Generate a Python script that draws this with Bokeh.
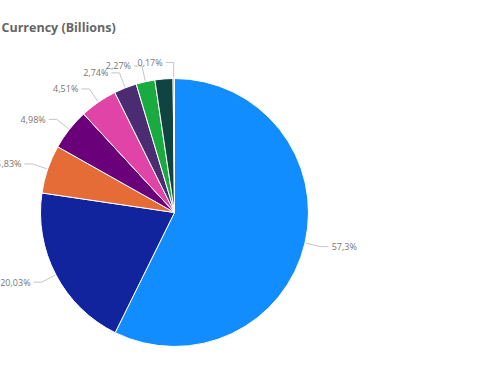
import math
from bokeh.plotting import figure
from bokeh.models import Range1d, ColumnDataSource
from bokeh.core.properties import value
from bokeh.embed import file_html
from bokeh.resources import INLINE

title_text = "Currency (Billions)"
categories = ["A", "B", "C", "D", "E", "F", "G", "H", "I"]
shares = [57.3, 20.03, 5.83, 4.98, 4.51, 2.74, 2.27, 2.17, 0.17]
show_label = [True, True, True, True, True, True, True, False, True]
colors = ["#118DFF", "#12239E", "#E66C37", "#6B007B", "#E044A7",
          "#4B2C72", "#1AAB40", "#0F4440", "#6C8E9A"]

W, H = 464, 368
p = figure(width=W, height=H, output_backend="svg", toolbar_location=None,
           x_range=Range1d(0, W), y_range=Range1d(384 - H, 384),
           x_axis_location=None, y_axis_location=None, min_border=0)
p.grid.visible = False
p.outline_line_color = None
p.background_fill_color = "white"

cx, cy, r = 174, 384 - 212, 134
total = sum(shares)
starts, ends, mids = [], [], []
cum = 0.0
for v in shares:
    a0 = math.pi / 2 - 2 * math.pi * cum / total
    cum += v
    a1 = math.pi / 2 - 2 * math.pi * cum / total
    starts.append(a0)
    ends.append(a1)
    mids.append((a0 + a1) / 2)

src = ColumnDataSource(dict(start=starts, end=ends, color=colors, cat=categories))
p.wedge(x=cx, y=cy, radius=r, start_angle="start", end_angle="end",
        direction="clock", fill_color="color", line_color="white",
        line_width=1, source=src)

# labels with leader lines
R2 = r * 1.12
xs_l, ys_l, tx, ty, tt, ta = [], [], [], [], [], []
for v, m, show in zip(shares, mids, show_label):
    if not show:
        continue
    ex, ey = cx + (r + 1) * math.cos(m), cy + (r + 1) * math.sin(m)
    bx, by = cx + R2 * math.cos(m), cy + R2 * math.sin(m)
    side = 1 if math.cos(m) >= 0 else -1
    hx = bx + side * 8
    xs_l.append([ex, bx, hx])
    ys_l.append([ey, by, by])
    tx.append(hx + side * 3)
    ty.append(by)
    tt.append(("%g" % v).replace(".", ",") + "%")
    ta.append("left" if side > 0 else "right")

p.multi_line(xs=xs_l, ys=ys_l, line_color="#C8C6C4", line_width=1)
p.text(x=tx, y=ty, text=tt, text_align=ta, text_baseline="middle",
       text_font=value("Open Sans"), text_font_size="9px", text_color="#7A7572")

p.text(x=[1], y=[384 - 27], text=[title_text], text_align="left",
       text_baseline="middle", text_font=value("Open Sans"),
       text_font_style="bold", text_font_size="12.5px", text_color="#666666")

open("out.html", "w").write(file_html(p, INLINE))
